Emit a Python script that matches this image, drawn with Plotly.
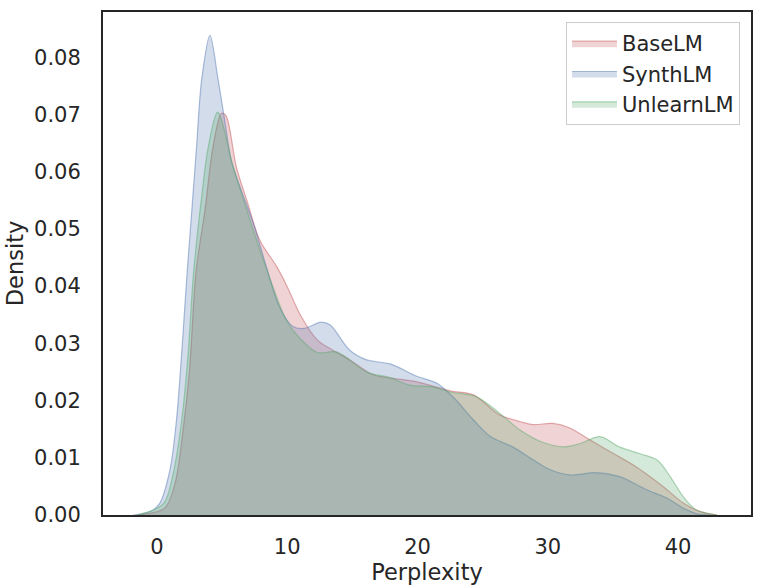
import plotly.graph_objects as go

# --- Density curves (perplexity vs. KDE density) ---
base_x = [-1.5, 0.6, 1.4, 2.0, 2.5, 3.0, 3.7, 4.3, 4.96, 5.3, 6.1, 6.9, 7.9, 9.2, 10.0, 11.0,
          12.3, 13.5, 14.8, 16.6, 18.1, 19.9, 22.5, 24.3, 26.3, 27.9, 28.9, 30.4, 31.7, 33.1,
          35.0, 36.8, 38.9, 40.4, 41.7, 43.0]
base_y = [0.0, 0.0012, 0.0056, 0.0148, 0.0253, 0.0425, 0.0535, 0.0643, 0.0702, 0.0698, 0.0608,
          0.0550, 0.0480, 0.0434, 0.0399, 0.0350, 0.0306, 0.0288, 0.0271, 0.0245, 0.0239, 0.0233,
          0.0217, 0.0210, 0.0175, 0.0163, 0.0158, 0.0160, 0.0152, 0.0133, 0.0108, 0.0084, 0.0049,
          0.0021, 0.0006, 0.0]

synth_x = [-1.8, -0.5, 0.2, 1.0, 1.5, 1.9, 2.3, 2.66, 3.04, 3.43, 4.07, 4.7, 5.2, 5.7, 6.4, 7.4,
           8.4, 9.4, 10.4, 11.3, 12.6, 13.3, 14.8, 16.1, 17.9, 19.9, 21.5, 22.7, 24.3, 25.6, 27.3,
           28.9, 30.2, 31.7, 33.7, 35.5, 37.6, 39.1, 40.4, 41.5, 42.5]
synth_y = [0.0, 0.0006, 0.002, 0.0079, 0.0166, 0.0283, 0.0418, 0.0527, 0.0643, 0.0760, 0.0838,
           0.0760, 0.0690, 0.0620, 0.0572, 0.0510, 0.0434, 0.0364, 0.0330, 0.0326, 0.0337, 0.0332,
           0.0288, 0.0271, 0.0264, 0.0243, 0.0230, 0.0207, 0.0166, 0.0137, 0.0119, 0.0096, 0.0079,
           0.0070, 0.0074, 0.0067, 0.0044, 0.0030, 0.0012, 0.0002, 0.0]

unlearn_x = [-1.5, 0.5, 1.25, 1.9, 2.4, 2.8, 3.43, 3.94, 4.66, 5.86, 6.9, 7.9, 8.9, 9.95, 11.0,
             12.3, 13.8, 16.1, 17.9, 19.4, 21.2, 22.5, 24.5, 26.3, 27.9, 29.5, 31.2, 32.5, 34.0,
             35.5, 37.1, 38.4, 39.4, 40.4, 41.4, 43.0]
unlearn_y = [0.0, 0.002, 0.0073, 0.0166, 0.0283, 0.0420, 0.0556, 0.0643, 0.0704, 0.0608, 0.0533,
             0.0463, 0.0399, 0.0340, 0.0308, 0.0284, 0.0285, 0.0250, 0.0240, 0.0227, 0.0224,
             0.0215, 0.0207, 0.0178, 0.0148, 0.0128, 0.0119, 0.0125, 0.0137, 0.0119, 0.0107,
             0.0096, 0.0067, 0.0032, 0.0009, 0.0]

series = [
    ("BaseLM", base_x, base_y, (196, 78, 82)),
    ("SynthLM", synth_x, synth_y, (76, 114, 176)),
    ("UnlearnLM", unlearn_x, unlearn_y, (85, 168, 104)),
]

x_ticks = [0, 10, 20, 30, 40]
y_ticks = [0.00, 0.01, 0.02, 0.03, 0.04, 0.05, 0.06, 0.07, 0.08]

FONT = "DejaVu Sans"
TEXT = "#262626"

fig = go.Figure()
for name, xs, ys, (r, g, b) in series:
    fig.add_trace(go.Scatter(
        x=xs, y=ys, name=name, mode="lines",
        line=dict(color=f"rgba({r},{g},{b},0.45)", width=1.2, shape="spline", smoothing=0.9),
        fill="tozeroy", fillcolor=f"rgba({r},{g},{b},0.25)",
    ))

fig.update_layout(
    width=762, height=587,
    margin=dict(l=103, r=11, t=12, b=72, autoexpand=False),
    paper_bgcolor="white", plot_bgcolor="white",
    font=dict(family=FONT, size=21, color=TEXT),
    showlegend=True,
    legend=dict(
        x=0.983, y=0.98, xanchor="right", yanchor="top",
        bgcolor="rgba(255,255,255,0.8)", bordercolor="#cccccc", borderwidth=1,
        font=dict(size=21, color=TEXT), tracegroupgap=0, itemwidth=45,
    ),
)
fig.update_xaxes(
    range=[-4.14, 45.6], tickvals=x_ticks, showgrid=False, zeroline=False,
    showline=True, mirror=True, linecolor="#262626", linewidth=2,
    ticks="", ticklabelstandoff=12, automargin=False,
    title=dict(text="Perplexity", font=dict(size=22.5), standoff=4),
)
fig.update_yaxes(
    range=[0, 0.0879], tickvals=y_ticks, tickformat=".2f", showgrid=False, zeroline=False,
    showline=True, mirror=True, linecolor="#262626", linewidth=2,
    ticks="", ticklabelstandoff=16, automargin=False,
    title=dict(text="Density", font=dict(size=22.5), standoff=4),
)

# drop the page's default body margin so the figure fills the window exactly
fig.write_html("out.html", config={"displayModeBar": False},
               post_script="document.body.style.margin='0';")
